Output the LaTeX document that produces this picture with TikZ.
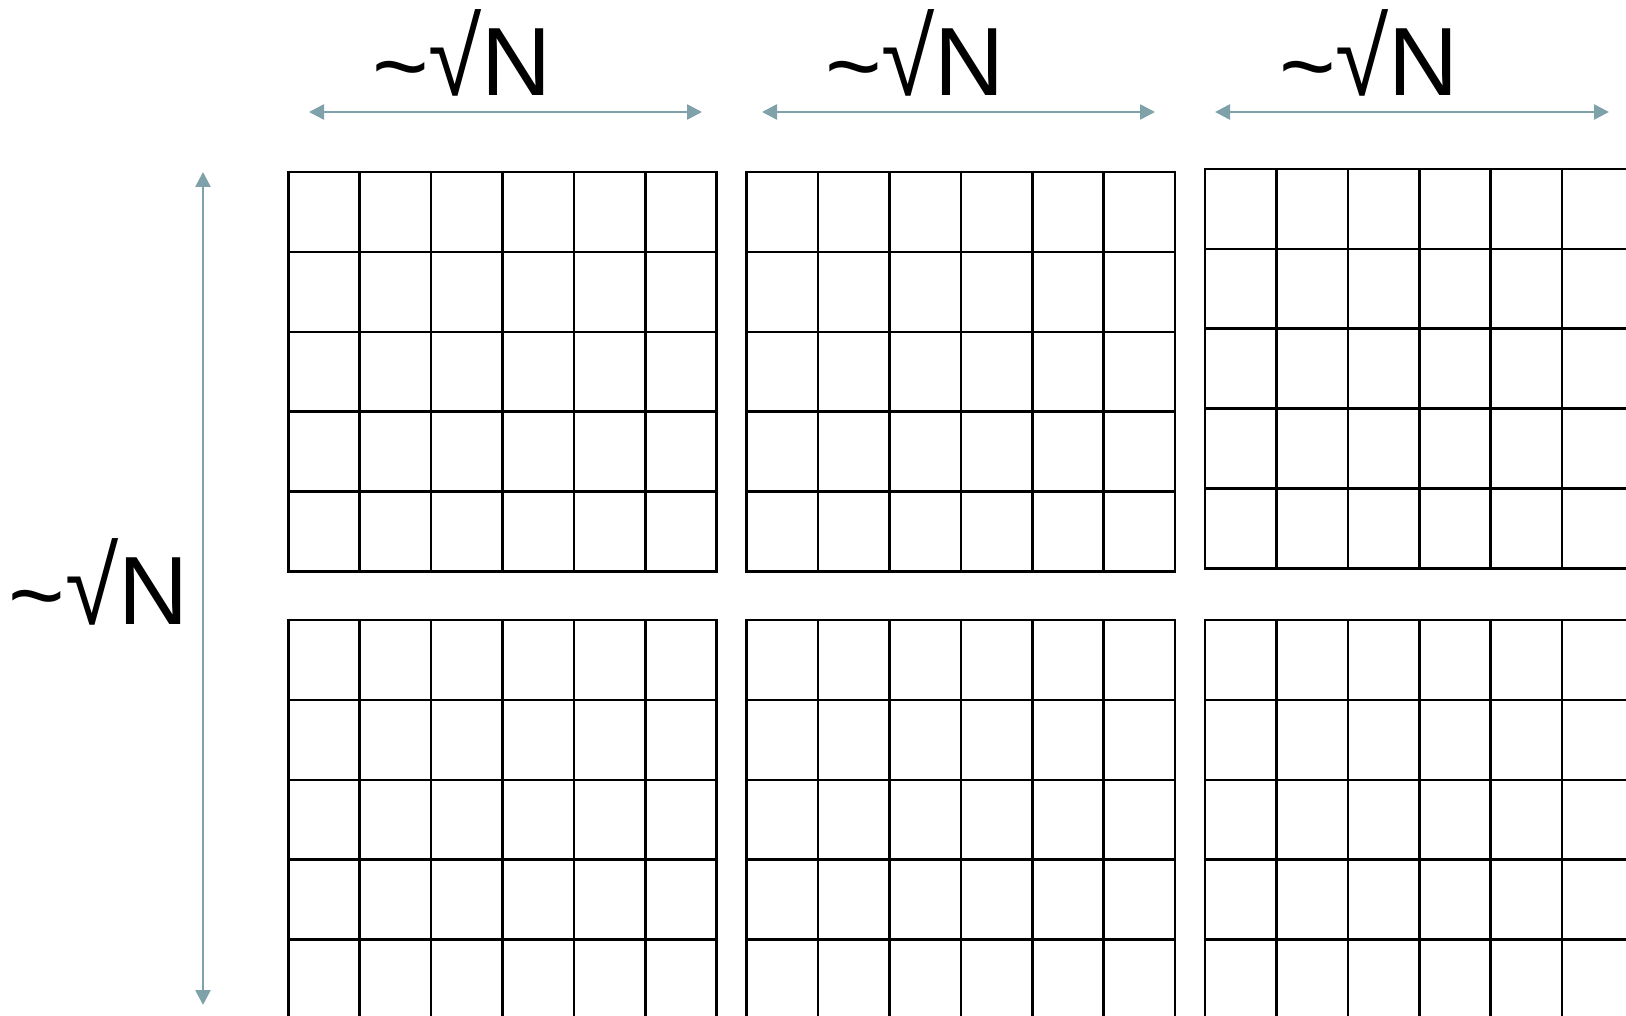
\documentclass[tikz,border=0pt]{standalone}
\usepackage{fontspec}
\setmainfont{Liberation Sans}
\usetikzlibrary{arrows.meta,math}
\definecolor{arrowgray}{RGB}{127,161,170}
\newcommand{\sqrtN}{\raisebox{-4pt}{\textasciitilde}\scalebox{1}[1.12]{√}N}

\begin{document}
\begin{tikzpicture}[x=1pt, y=-1pt,
        cell/.style={line width=2.6pt, black, line cap=rect},
        span/.style={line width=2.6pt, arrowgray,
            {Triangle[length=15pt,width=15pt]}-{Triangle[length=15pt,width=15pt]}},
        lbl/.style={font=\fontsize{97}{110}\selectfont, inner sep=0pt}]
        \tikzmath{\w = 71.4; \h = 79.85;}
        \useasboundingbox (0,0) rectangle (1626,1016);
        \clip (0,0) rectangle (1626,1016);

        % blocks of cells
        \foreach \bx/\by in {288.3/172.2, 746.6/172.2, 1205/169, 288.3/620.1, 746.6/620.1, 1205/620.1}
            {
                \foreach \i in {0,...,6}
                \draw[cell] ({\bx+\i*\w}, \by) -- ({\bx+\i*\w}, {\by+5*\h});
                \foreach \j in {0,...,5}
                \draw[cell] (\bx, {\by+\j*\h}) -- ({\bx+6*\w}, {\by+\j*\h});
            }

        % width markers
        \foreach \n/\xa/\xb/\xl in {1/309/702/462, 2/762/1155/915, 3/1215/1609/1369}
            {
                \coordinate (wa\n) at (\xa, 112);
                \coordinate (wb\n) at (\xb, 112);
                \draw[span] (wa\n) -- (wb\n);
                \node[lbl, anchor=base] (top\n) at (\xl, 95.4) {\sqrtN};
            }

        % height marker
        \coordinate (ha) at (203, 172);
        \coordinate (hb) at (203, 1005);
        \draw[span] (ha) -- (hb);
        \node[lbl, anchor=base] (side) at (98.5, 624) {\sqrtN};
    \end{tikzpicture}
\end{document}
